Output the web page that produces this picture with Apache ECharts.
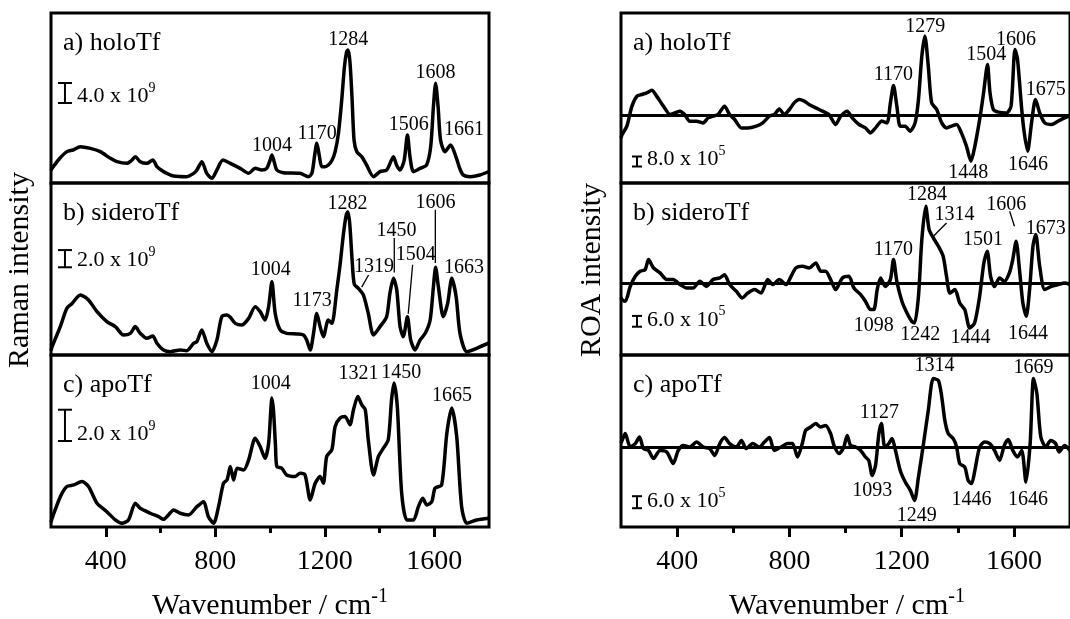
<!DOCTYPE html>
<html><head><meta charset="utf-8">
<script src="https://cdn.jsdelivr.net/npm/echarts@6/dist/echarts.min.js"></script>
<style>html,body{margin:0;padding:0;background:#fff}#c{width:1070px;height:619px}</style>
</head><body><div id="c"></div>
<script>
// ---------- DATA ----------
const majorTicks = [400, 800, 1200, 1600];
const minorTicks = [600, 1000, 1400];
const panelNames = ['a) holoTf', 'b) sideroTf', 'c) apoTf', 'a) holoTf', 'b) sideroTf', 'c) apoTf'];

// Raman spectra (units of 1e9)
const ramanHolo = [[200,2.5],[204,2.93],[230,4.8],[258,6.27],[280,6.6],[307,7.27],[344,6.93],[380,6.27],[417,4.93],[441,4.27],[477,3.93],[494,4.5],[508,5.27],[526,4.27],[550,3.93],[572,4.6],[587,3.27],[605,2.5],[623,1.93],[648,1.4],[696,1.27],[721,1.93],[733,2.6],[751,4.27],[769,1.93],[788,0.93],[806,2.6],[828,4.6],[855,3.93],[891,2.93],[922,1.93],[946,2.93],[970,2.6],[988,2.93],[1000,4.5],[1007,5.6],[1015,4.3],[1025,2.6],[1049,2.07],[1110,1.93],[1140,1.27],[1153,1.93],[1163,5.5],[1171,7.93],[1180,5.5],[1189,3.27],[1201,3.27],[1213,3.6],[1226,4.5],[1238,6.27],[1250,9.93],[1262,16.6],[1272,23.27],[1280,26.27],[1285,26.6],[1292,24.27],[1300,16.6],[1307,8.6],[1317,6.27],[1335,5.27],[1353,3.6],[1378,1.27],[1402,2.27],[1426,2.6],[1443,4.5],[1451,5.27],[1463,3.5],[1475,2.6],[1490,4.5],[1502,9.6],[1512,5],[1524,2.27],[1548,2.93],[1572,3.6],[1587,7.27],[1597,15.27],[1605,19.93],[1614,15.27],[1623,8.6],[1639,6.27],[1660,7.6],[1679,5.27],[1694,2.8],[1706,1.6],[1731,1.27],[1767,1.6],[1800,2.3]];
const ramanSidero = [[200,0.5],[204,0.97],[234,3.3],[258,5.43],[277,6.0],[307,6.98],[337,6.4],[368,5.04],[404,3.88],[435,3.3],[465,2.33],[490,2.52],[508,3.3],[526,2.52],[550,1.94],[572,2.2],[587,1.36],[611,0.58],[636,0.39],[672,0.58],[696,0.5],[721,1.36],[733,1.55],[751,2.91],[769,1.36],[788,0.39],[806,1.74],[824,4.46],[843,4.65],[855,4.38],[873,3.68],[897,3.49],[922,4.26],[946,5.62],[964,5.04],[982,4.07],[995,5.62],[1007,8.53],[1019,4.84],[1037,2.91],[1061,2.52],[1098,2.44],[1122,2.33],[1134,1.74],[1147,0.58],[1159,2.52],[1171,4.84],[1183,3.3],[1195,2.13],[1213,4.07],[1226,3.68],[1244,7.56],[1256,10.5],[1268,14.0],[1278,16.2],[1284,16.67],[1291,15.4],[1300,11.0],[1308,8.2],[1323,7.75],[1341,6.98],[1359,4.84],[1378,2.33],[1402,3.3],[1426,4.46],[1438,7.17],[1451,8.91],[1463,7.56],[1475,3.3],[1487,2.13],[1502,4.46],[1514,1.74],[1530,0.58],[1548,1.74],[1567,2.52],[1585,4.07],[1597,7.95],[1605,10.2],[1615,7.95],[1633,4.46],[1649,6.0],[1664,8.91],[1680,6.78],[1694,2.52],[1719,0.39],[1755,0.78],[1800,1.4]];
const ramanApo = [[200,0.3],[204,0.56],[234,1.94],[258,2.59],[283,2.69],[313,2.91],[337,2.59],[368,1.52],[404,0.98],[435,0.45],[459,0.24],[483,0.45],[508,1.52],[526,1.2],[563,0.88],[593,0.66],[611,0.49],[629,0.77],[648,1.09],[672,0.88],[702,0.77],[733,1.3],[757,1.62],[775,0.66],[794,0.24],[812,1.3],[830,2.8],[843,3.01],[855,3.87],[867,3.01],[880,3.76],[904,3.65],[922,4.29],[946,5.68],[964,5.15],[982,4.4],[995,5.36],[1003,7.5],[1007,8.25],[1013,7.4],[1020,5.2],[1025,3.87],[1043,3.76],[1061,3.33],[1092,3.23],[1110,3.44],[1128,3.33],[1147,1.73],[1165,2.8],[1183,3.23],[1195,2.8],[1207,4.51],[1226,4.94],[1238,6.43],[1256,6.97],[1274,7.07],[1292,6.54],[1305,7.5],[1321,8.35],[1335,7.82],[1348,7.5],[1359,5.58],[1378,3.33],[1396,4.51],[1414,5.04],[1432,5.58],[1444,8.14],[1453,9.21],[1465,7.71],[1481,2.16],[1500,0.45],[1524,0.45],[1542,1.3],[1558,1.84],[1573,1.41],[1591,1.62],[1603,2.48],[1627,2.69],[1646,6.0],[1664,7.61],[1682,5.79],[1700,1.3],[1719,0.24],[1755,0.45],[1800,0.56]];

// ROA spectra (units of 1e5)
const roaHolo = [[200,-18],[204,-15.2],[221,-8.5],[239,7.5],[257,15.5],[274,16.8],[292,18.1],[310,20.3],[327,15.5],[351,7.5],[375,0.8],[392,2.1],[410,3.5],[427,0.8],[445,-4.5],[469,-4.5],[493,-5.9],[510,-1.9],[528,-0.5],[546,0.8],[569,7.5],[587,0.8],[605,-3.2],[629,-9.9],[652,-9.9],[682,-8.5],[705,-5.9],[729,-0.5],[747,0.8],[764,5.3],[782,0.8],[800,4.8],[817,10.1],[835,12.8],[853,11.5],[870,8.8],[894,6.1],[918,3.5],[941,0.8],[965,-7.2],[983,-0.5],[1006,3.5],[1024,-1.9],[1048,-7.2],[1071,-9.9],[1089,-13.9],[1107,-9.9],[1130,-4.5],[1148,-5.9],[1160,10.1],[1171,24],[1183,7.5],[1195,-8.5],[1213,-8.5],[1230,-12.5],[1248,-5.9],[1260,12.8],[1272,47.5],[1283,63.5],[1295,39.5],[1307,10.1],[1325,4.8],[1343,-5.9],[1360,-9.9],[1378,-8.5],[1396,-7.2],[1413,-13.9],[1431,-24.5],[1447,-36.5],[1461,-24.5],[1480,-0.5],[1492,18.1],[1506,40.8],[1515,18.1],[1527,4.8],[1545,2.7],[1574,2.1],[1590,7.5],[1604,52.8],[1613,44.8],[1628,4.8],[1637,-13.9],[1649,-28.5],[1663,-5.9],[1677,12.8],[1692,2.1],[1710,-5.9],[1734,-7.2],[1758,-4.5],[1781,-1.9],[1800,0]];
const roaSidero = [[200,-8],[204,-9.3],[215,-10.2],[233,-1.9],[251,3.7],[268,6.5],[286,7.4],[298,13],[316,8.3],[339,5.6],[363,1.9],[386,1.9],[410,-0.9],[434,-2.8],[457,-2.8],[481,0.9],[504,-1.9],[528,1.9],[552,2.8],[569,4.6],[587,-0.9],[611,-4.6],[632,-8.3],[652,-5.6],[676,-3.7],[699,-5.6],[723,1.9],[741,-0.9],[764,1.9],[788,-0.9],[806,3.7],[823,8.3],[847,9.3],[870,8.3],[894,11.1],[912,6.5],[929,6.5],[947,1.9],[965,-3.7],[989,2.8],[1012,3.7],[1030,-2.8],[1054,-6.5],[1071,-10.2],[1089,-14.8],[1101,-14.8],[1113,-3.7],[1125,2.8],[1142,-1.9],[1160,1.9],[1171,13],[1183,0.9],[1201,-10.2],[1219,-16.7],[1236,-21.3],[1246,-22.2],[1260,-7.4],[1272,24.1],[1286,42.6],[1298,29.6],[1313,25],[1331,20.4],[1348,14.8],[1360,3.7],[1372,-5.6],[1390,-3.7],[1407,-11.1],[1425,-14.8],[1443,-25],[1460,-22.2],[1478,-7.4],[1493,11.1],[1505,17.6],[1517,3.7],[1531,-1.9],[1549,2.8],[1566,0.9],[1584,5.6],[1596,13],[1608,23.1],[1620,7.4],[1632,-11.1],[1644,-18.5],[1656,-3.7],[1668,20.4],[1678,26.9],[1692,9.3],[1710,-3.7],[1734,-1.9],[1758,-0.9],[1781,0],[1800,-0.9]];
const roaApo = [[200,2],[204,3.3],[215,6.7],[233,0],[251,1.7],[266,5],[280,-0.8],[298,-1.7],[316,-5.8],[339,-1.7],[363,-2.5],[386,-8.3],[404,-1.7],[422,0.8],[445,0],[469,2.5],[493,0],[516,-0.8],[534,-4.2],[552,1.7],[569,4.7],[587,1.7],[611,0],[629,3.3],[646,-0.8],[670,1.7],[693,0],[711,2.5],[729,4.7],[746,-1.7],[770,0],[793,1.7],[811,1.7],[829,-5],[846,1.7],[858,8.3],[876,10],[894,11.7],[911,10],[929,10.8],[947,6.7],[959,0.8],[977,-3.3],[994,0],[1006,5.8],[1018,0.8],[1036,0],[1054,-1.7],[1071,-5],[1083,-6.7],[1095,-14.2],[1107,-9.2],[1119,6.7],[1128,11.7],[1140,0],[1154,1.7],[1166,4.2],[1178,-1.7],[1195,-11.7],[1213,-17.5],[1231,-21.7],[1246,-26.7],[1260,-15],[1278,1.7],[1295,18.3],[1313,34.2],[1331,33.3],[1343,25],[1354,13.3],[1366,6.7],[1384,4.2],[1396,0],[1407,-8.3],[1425,-10],[1437,-16.7],[1449,-18.3],[1461,-11.7],[1478,0],[1496,2.5],[1514,1.7],[1531,-1.7],[1549,-6.7],[1566,0.8],[1580,3.7],[1596,-1.7],[1613,-5],[1628,-1.7],[1643,-17.5],[1658,1.7],[1670,34.2],[1682,26.7],[1696,5],[1714,0],[1731,3.3],[1749,1.7],[1761,-2.5],[1781,0.8],[1800,-1.7]];

// Peak annotations [wavenumber, value, text]
const notesRamanHolo = [[1007,7.47,'1004'],[1172,9.8,'1170'],[1286,28.6,'1284'],[1507,11.6,'1506'],[1605,22.1,'1608'],[1709,10.7,'1661']];
const notesRamanSidero = [[1283,17.6,'1282'],[1605,17.7,'1606'],[1462,14.5,'1450'],[1532,11.7,'1504'],[1380,10.3,'1319'],[1709,10.2,'1663'],[1003,9.9,'1004'],[1154,6.3,'1173']];
const notesRamanApo = [[1003,9.17,'1004'],[1323,9.8,'1321'],[1479,9.85,'1450'],[1665,8.4,'1665']];
const notesRoaHolo = [[1284,70.9,'1279'],[1608,60.8,'1606'],[1502,48.8,'1504'],[1171,32.8,'1170'],[1714,20.8,'1675'],[1437,-45.9,'1448'],[1650,-39.2,'1646']];
const notesRoaSidero = [[1290,49.1,'1284'],[1388,37.9,'1314'],[1573,43.5,'1606'],[1714,30,'1673'],[1490,24.1,'1501'],[1171,18.5,'1170'],[1101,-23.5,'1098'],[1266,-28.7,'1242'],[1445,-30.6,'1444'],[1650,-28.1,'1644']];
const notesRoaApo = [[1317,40.8,'1314'],[1670,39.7,'1669'],[1121,17.2,'1127'],[1095,-22,'1093'],[1254,-34.2,'1249'],[1449,-26.2,'1446'],[1650,-26.2,'1646']];

// Leader lines
const leadersRamanSidero = [[[1454,13.6],[1454,9.6]],[[1521,10.5],[1505,4.8]],[[1604,16.9],[1604,10.7]],[[1360,9.3],[1335,7.9]]];
const leadersRoaSidero = [[[1360,33.3],[1313,25.9]],[[1585,39.8],[1602,31.5]]];

// Scale bars: bottom point [wavenumber, value], length in data units, label
const scaleBarLengths = [4.0, 2.0, 2.0, 8.0, 6.0, 6.0];
const scaleBarTexts = ['4.0 x 10', '2.0 x 10', '2.0 x 10', '8.0 x 10', '6.0 x 10', '6.0 x 10'];
const scaleBarExps = ['9', '9', '9', '5', '5', '5'];
const scaleBarAnchors = [[251,16],[251,10.2],[251,5.5],[257,-40.8],[257,-24.3],[257,-30.6]];

// ---------- LAYOUT ----------
const FONT = "'Liberation Serif','Times New Roman',serif";
const grids = [
  {left:51, top:13, width:438, height:170},
  {left:51, top:183, width:438, height:172},
  {left:51, top:355, width:438, height:172},
  {left:621, top:13, width:451, height:170},
  {left:621, top:183, width:451, height:172},
  {left:621, top:355, width:451, height:172}
];
const yRanges = [[0,34],[0,20],[0,11],[-54,82],[-40,55.5],[-40,46]];
const spectra = [ramanHolo, ramanSidero, ramanApo, roaHolo, roaSidero, roaApo];
const notes = [notesRamanHolo, notesRamanSidero, notesRamanApo, notesRoaHolo, notesRoaSidero, notesRoaApo];
const leaders = [[], leadersRamanSidero, [], [], leadersRoaSidero, []];
const isBottom = [false, false, true, false, false, true];
const isROA = [false, false, false, true, true, true];

const xAxes = [], yAxes = [], series = [];
grids.forEach((g, i) => {
  xAxes.push({
    type:'value', gridIndex:i, position:'bottom', min:200, max:1800, interval:200,
    axisLine:{show:false, onZero:false}, splitLine:{show:false},
    axisTick:{show:isBottom[i], inside:false, length:10, lineStyle:{color:'#000', width:3}, customValues: majorTicks},
    axisLabel:{show:isBottom[i], customValues: majorTicks, formatter: v => String(v),
      margin:21, fontSize:28, fontFamily:FONT, color:'#000'}
  });
  yAxes.push({type:'value', gridIndex:i, min:yRanges[i][0], max:yRanges[i][1], show:false,
    axisLine:{onZero:false}, splitLine:{show:false}});
});
// minor tick axes for bottom panels
[2,5].forEach(i => {
  xAxes.push({
    type:'value', gridIndex:i, position:'bottom', offset:0, min:200, max:1800, interval:200,
    axisLine:{show:false, onZero:false}, splitLine:{show:false}, axisLabel:{show:false},
    axisTick:{show:true, inside:false, length:6, lineStyle:{color:'#000', width:3}, customValues: minorTicks}
  });
});

grids.forEach((g, i) => {
  const s = {
    type:'line', xAxisIndex:i, yAxisIndex:i, data:spectra[i], showSymbol:false,
    smooth:0.25, silent:true, z:3,
    lineStyle:{color:'#000', width:3.5}
  };
  if (isROA[i]) {
    s.markLine = {symbol:'none', silent:true, label:{show:false},
      lineStyle:{color:'#000', width:3, type:'solid'}, data:[{yAxis:0}]};
  }
  series.push(s);
  leaders[i].forEach(l => series.push({
    type:'line', xAxisIndex:i, yAxisIndex:i, data:l, showSymbol:false, silent:true,
    lineStyle:{color:'#000', width:1.3}
  }));
  series.push({
    type:'scatter', xAxisIndex:i, yAxisIndex:i, silent:true, symbolSize:0,
    itemStyle:{color:'#000'},
    data: notes[i].map(n => ({value:[n[0], n[1]], name:n[2]})),
    label:{show:true, position:'inside', formatter:'{b}', fontSize:20, fontFamily:FONT,
      color:'#000', textBorderWidth:0, opacity:1}
  });
});

const option = {
  animation:false,
  backgroundColor:'#fff',
  grid: grids.map(g => Object.assign({show:true, borderColor:'#000', borderWidth:3, backgroundColor:'transparent'}, g)),
  xAxis:xAxes, yAxis:yAxes, series:series
};

const chart = echarts.init(document.getElementById('c'), null, {renderer:'canvas'});
chart.setOption(option);

// ---------- GRAPHIC (titles, panel labels, scale bars) ----------
const gfx = [];
const supRich = {
  m:{fontSize:22, fontFamily:FONT, fill:'#000', lineHeight:26, verticalAlign:'bottom'},
  e:{fontSize:14, fontFamily:FONT, fill:'#000', lineHeight:6, verticalAlign:'top'}
};
grids.forEach((g, i) => {
  gfx.push({type:'text', x:g.left + 12, y:g.top + 30, z:10,
    style:{text:panelNames[i], font:'26px ' + FONT, fill:'#000', align:'left', verticalAlign:'middle'}});
  const a = scaleBarAnchors[i];
  const p0 = chart.convertToPixel({gridIndex:i}, a);
  const p1 = chart.convertToPixel({gridIndex:i}, [a[0], a[1] + scaleBarLengths[i]]);
  const hw = isROA[i] ? 5 : 7;
  [[p0[0], p0[1], p0[0], p1[1]], [p0[0]-hw, p0[1], p0[0]+hw, p0[1]], [p0[0]-hw, p1[1], p0[0]+hw, p1[1]]].forEach(c => {
    gfx.push({type:'line', z:10, shape:{x1:c[0], y1:c[1], x2:c[2], y2:c[3]}, style:{stroke:'#000', lineWidth:2}});
  });
  gfx.push({type:'text', z:10, x:p0[0] + hw + 5, y:p0[1] - 9,
    style:{text:'{m|' + scaleBarTexts[i] + '}{e|' + scaleBarExps[i] + '}', rich:supRich, align:'left', verticalAlign:'middle', fill:'#000'}});
});
const titleRich = {
  a:{fontSize:30, fontFamily:FONT, fill:'#000', lineHeight:34, verticalAlign:'bottom'},
  b:{fontSize:20, fontFamily:FONT, fill:'#000', lineHeight:10, verticalAlign:'top'}
};
[[270, 604], [847, 604]].forEach(p => {
  gfx.push({type:'text', z:10, x:p[0], y:p[1],
    style:{text:'{a|Wavenumber / cm}{b|-1}', rich:titleRich, align:'center', verticalAlign:'middle', fill:'#000'}});
});
gfx.push({type:'text', z:10, x:20, y:270, rotation:Math.PI/2,
  style:{text:'Raman intensity', font:'30px ' + FONT, fill:'#000', align:'center', verticalAlign:'middle'}});
gfx.push({type:'text', z:10, x:592, y:270, rotation:Math.PI/2,
  style:{text:'ROA intensity', font:'30px ' + FONT, fill:'#000', align:'center', verticalAlign:'middle'}});
chart.setOption({graphic:gfx});
</script>
</body></html>
